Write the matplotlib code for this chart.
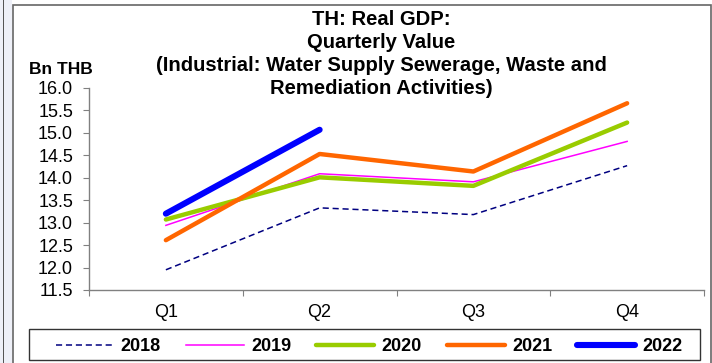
import matplotlib
matplotlib.use("Agg")
import matplotlib.pyplot as plt
from matplotlib.patches import Rectangle

plt.rcParams['font.family'] = ['Liberation Sans', 'DejaVu Sans']

# --- data ---
quarters = ['Q1', 'Q2', 'Q3', 'Q4']
years = ['2018', '2019', '2020', '2021', '2022']
gdp_2018 = [11.95, 13.33, 13.18, 14.27]
gdp_2019 = [12.94, 14.09, 13.91, 14.81]
gdp_2020 = [13.07, 14.01, 13.82, 15.23]
gdp_2021 = [12.61, 14.53, 14.14, 15.66]
gdp_2022 = [13.20, 15.07]

fig = plt.figure(figsize=(7.12, 3.63), dpi=100)
fig.patch.set_facecolor('white')

# outer frame and left strip (screenshot decoration)
fig.add_artist(Rectangle((0, 0), 12 / 712, 1, transform=fig.transFigure,
                         facecolor='#eef0f8', edgecolor='none', zorder=-10))
fig.add_artist(Rectangle((3 / 712, 0), 1.2 / 712, 1, transform=fig.transFigure,
                         facecolor='#555555', edgecolor='none', zorder=-10))
fig.add_artist(Rectangle((12.5 / 712, -0.05), 698 / 712, 1.05 - 4.5 / 363,
                         transform=fig.transFigure, facecolor='white',
                         edgecolor='#666666', linewidth=1.2, zorder=-10))

ax = fig.add_axes([89 / 712, 1 - 290 / 363, (704 - 89) / 712, (290 - 88) / 363])
ax.set_facecolor('none')

x = list(range(len(quarters)))
ax.plot(x, gdp_2018, color='#000080', linewidth=1.1, linestyle=(0, (4, 2.5)), label=years[0])
ax.plot(x, gdp_2019, color='#ff00ff', linewidth=1.1, label=years[1])
ax.plot(x, gdp_2020, color='#99cc00', linewidth=3.2, solid_capstyle='round', label=years[2])
ax.plot(x, gdp_2021, color='#ff6600', linewidth=3.2, solid_capstyle='round', label=years[3])
ax.plot(x[:len(gdp_2022)], gdp_2022, color='#0000ff', linewidth=4.4,
        solid_capstyle='round', label=years[4])

# axes formatting
ax.set_xlim(-0.5, len(quarters) - 0.5)
ax.set_ylim(11.5, 16.0)
ax.set_yticks([11.5 + 0.5 * i for i in range(10)])
ax.set_yticklabels([f"{11.5 + 0.5 * i:.1f}" for i in range(10)])
ax.set_xticks([i - 0.5 for i in range(len(quarters) + 1)])
ax.set_xticklabels([])
ax.set_xticks(x, minor=True)
ax.set_xticklabels(quarters, minor=True)
ax.tick_params(axis='x', which='major', length=4.5, color='#808080', direction='out')
ax.tick_params(axis='x', which='minor', length=0, pad=10, labelsize=13)
ax.tick_params(axis='y', length=4.5, color='#808080', direction='out', labelsize=13, pad=7)
for side in ['top', 'right']:
    ax.spines[side].set_visible(False)
for side in ['left', 'bottom']:
    ax.spines[side].set_color('#808080')
    ax.spines[side].set_linewidth(1.0)

# titles
fig.text(381 / 712, 1 - 10 / 363,
         "TH: Real GDP:\nQuarterly Value\n(Industrial: Water Supply Sewerage, Waste and\nRemediation Activities)",
         ha='center', va='top', fontsize=14.6, fontweight='bold', linespacing=1.27)
fig.text(29 / 712, 1 - 74 / 363, "Bn THB", ha='left', va='baseline',
         fontsize=12.5, fontweight='bold')

# legend: frame drawn separately, entries spread across it
fig.add_artist(Rectangle((29 / 712, 1 - 360 / 363), 671 / 712, 31 / 363,
                         transform=fig.transFigure, facecolor='white',
                         edgecolor='#333333', linewidth=1.0, zorder=4))
leg = fig.legend(loc='lower left',
                 bbox_to_anchor=(52 / 712, 1 - 359 / 363, 634 / 712, 29 / 363),
                 mode='expand', ncol=5, frameon=False,
                 prop={'weight': 'bold', 'size': 13}, handlelength=3.2,
                 handletextpad=0.4, borderpad=0.2, borderaxespad=0)
leg.set_zorder(5)

fig.savefig('out.png', dpi=100)
